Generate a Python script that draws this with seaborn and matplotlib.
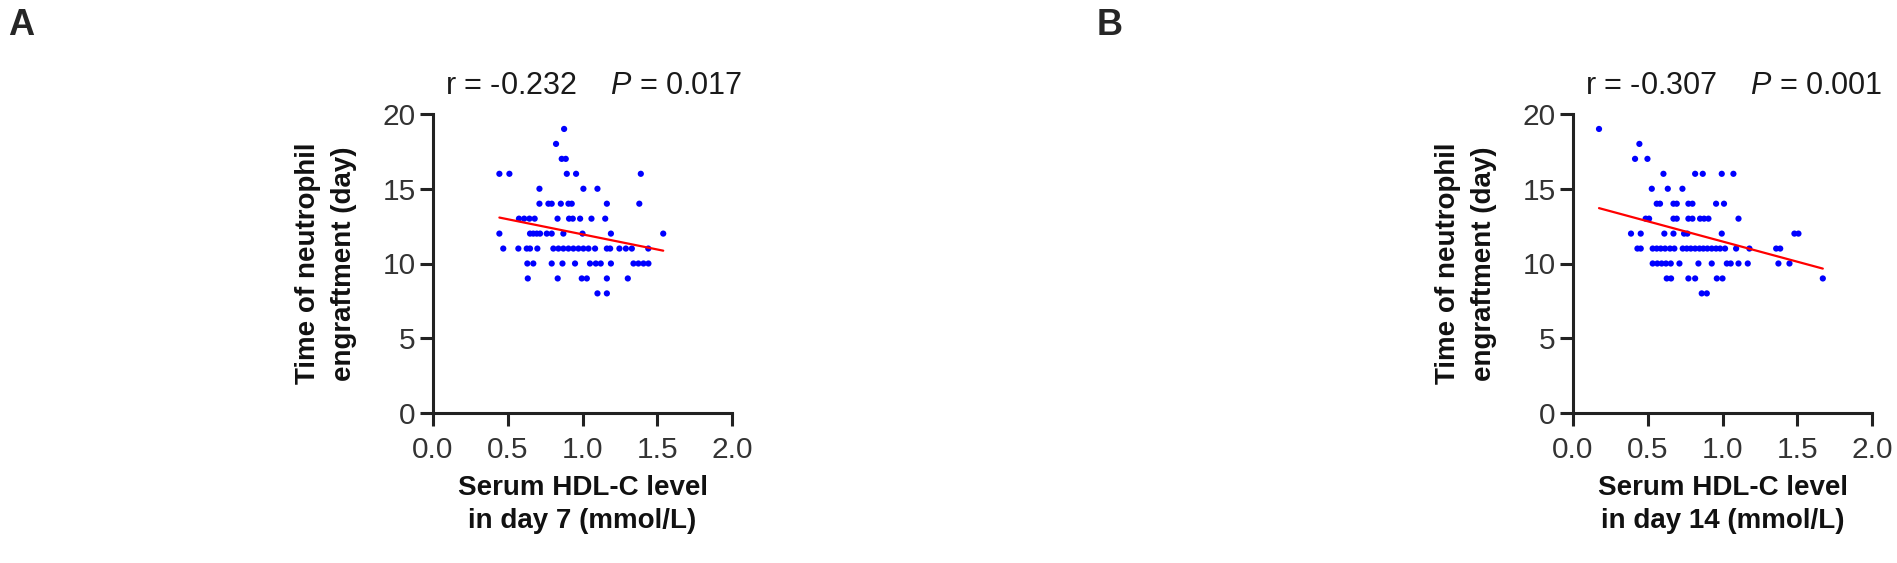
import numpy as np
import pandas as pd
import seaborn as sns
import matplotlib.pyplot as plt

sns.set_theme()
sns.set_style('ticks')
plt.rcParams['font.family'] = ['Liberation Sans', 'DejaVu Sans']
plt.rcParams['mathtext.fontset'] = 'custom'
plt.rcParams['mathtext.rm'] = 'Liberation Sans'
plt.rcParams['mathtext.it'] = 'Liberation Sans:italic'

# panel A: HDL-C on day 7 vs days to neutrophil engraftment (read row by row)
hdl_day7 = [0.877,
            0.823,
            0.861, 0.888,
            0.444, 0.511, 0.895, 0.957, 1.39,
            0.712, 1.006, 1.10,
            0.712, 0.772, 0.794, 0.855, 0.906, 0.928, 1.163, 1.38,
            0.575, 0.61, 0.645, 0.68, 0.833, 0.91, 0.935, 0.984, 1.06, 1.152,
            0.444, 0.649, 0.671, 0.694, 0.716, 0.761, 0.794, 0.872, 1.0, 1.19, 1.54,
            0.47, 0.571, 0.627, 0.649, 0.698, 0.805, 0.839, 0.872, 0.906, 0.939,
            0.973, 1.006, 1.04, 1.084, 1.163, 1.185, 1.247, 1.29, 1.33, 1.44,
            0.631, 0.671, 0.794, 0.866, 0.95, 1.05, 1.089, 1.122, 1.19, 1.341, 1.374, 1.408, 1.441,
            0.634, 0.834, 0.995, 1.029, 1.163, 1.303,
            1.10, 1.163]
days_day7 = ([19] + [18] + [17] * 2 + [16] * 5 + [15] * 3 + [14] * 8 + [13] * 10
             + [12] * 11 + [11] * 20 + [10] * 13 + [9] * 6 + [8] * 2)

# panel B: HDL-C on day 14
hdl_day14 = [0.174,
             0.444,
             0.415, 0.498,
             0.605, 0.817, 0.868, 0.995, 1.073,
             0.527, 0.634, 0.732,
             0.56, 0.582, 0.672, 0.694, 0.772, 0.799, 0.957, 1.01,
             0.486, 0.509, 0.672, 0.694, 0.772, 0.799, 0.85, 0.877, 0.906, 1.107,
             0.388, 0.453, 0.611, 0.672, 0.743, 0.765, 0.995, 1.481, 1.508,
             0.431, 0.453, 0.533, 0.56, 0.587, 0.616, 0.649, 0.678, 0.734, 0.761, 0.788,
             0.817, 0.846, 0.872, 0.899, 0.928, 0.957, 0.984, 1.017, 1.091, 1.18, 1.359, 1.386,
             0.533, 0.564, 0.593, 0.622, 0.654, 0.712, 0.839, 0.928, 1.029, 1.055, 1.107, 1.169, 1.374, 1.448,
             0.627, 0.656, 0.772, 0.817, 0.962, 1.0, 1.671,
             0.861, 0.895]
days_day14 = ([19] + [18] + [17] * 2 + [16] * 5 + [15] * 3 + [14] * 8 + [13] * 10
              + [12] * 9 + [11] * 23 + [10] * 14 + [9] * 7 + [8] * 2)

stat_texts = [r'r = -0.232    $\mathit{P}$ = 0.017', r'r = -0.307    $\mathit{P}$ = 0.001']
xlabels = ['Serum HDL-C level\nin day 7 (mmol/L)', 'Serum HDL-C level\nin day 14 (mmol/L)']
panel_letters = ['A', 'B']

W, H = 1897, 563
fig = plt.figure(figsize=(W / 100, H / 100), dpi=100)
axes = [fig.add_axes([433 / W, 150 / H, 299 / W, 299 / H]),
        fig.add_axes([1573 / W, 150 / H, 299 / W, 299 / H])]

panels = [(hdl_day7, days_day7), (hdl_day14, days_day14)]
for i, ax in enumerate(axes):
    df = pd.DataFrame({'hdl': panels[i][0], 'days': panels[i][1]})
    sns.scatterplot(data=df, x='hdl', y='days', ax=ax, color='#0000ff', s=20,
                    edgecolor='none', linewidth=0, zorder=3)
    sns.regplot(data=df, x='hdl', y='days', ax=ax, scatter=False, ci=None,
                color='#ff0000', line_kws={'linewidth': 1.6, 'zorder': 4})
    ax.set_xlim(0, 2)
    ax.set_ylim(0, 20)
    ax.set_xticks([0, 0.5, 1.0, 1.5, 2.0])
    ax.set_xticklabels(['0.0', '0.5', '1.0', '1.5', '2.0'])
    ax.set_yticks([0, 5, 10, 15, 20])
    sns.despine(ax=ax)
    for sp in ['left', 'bottom']:
        ax.spines[sp].set_linewidth(2.2)
        ax.spines[sp].set_color('#222222')
    ax.tick_params(axis='both', direction='out', length=9.5, width=2.2,
                   color='#222222', labelsize=21.5, labelcolor='#333333')
    ax.tick_params(axis='x', pad=7)
    ax.tick_params(axis='y', pad=3)
    ax.set_xlabel(xlabels[i], fontsize=20, fontweight='bold', color='#111111',
                  labelpad=8, linespacing=1.35)
    ax.set_ylabel('Time of neutrophil\nengraftment (day)', fontsize=20,
                  fontweight='bold', color='#111111', labelpad=18, linespacing=1.5)
    ax.text(0.538, 1.095, stat_texts[i], transform=ax.transAxes, ha='center',
            va='center', fontsize=22, color='#1a1a1a')
    ax.set_facecolor('white')

fig.text(8 / W, 1 - 8 / H, panel_letters[0], fontsize=26, fontweight='bold', va='top', ha='left')
fig.text(1097 / W, 1 - 8 / H, panel_letters[1], fontsize=26, fontweight='bold', va='top', ha='left')

fig.savefig('out.png', dpi=100, facecolor='white')
